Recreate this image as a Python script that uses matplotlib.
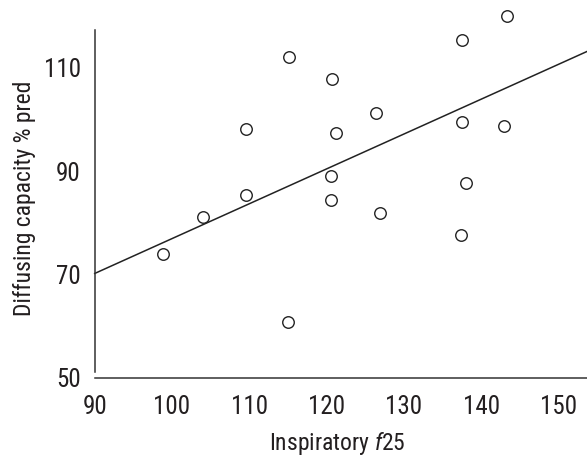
import matplotlib
matplotlib.use("Agg")
import matplotlib.pyplot as plt

# Data
insp_f25 = [98.9, 104.0, 109.6, 109.6, 115.1, 115.05, 120.7, 121.2, 120.6, 120.6,
            126.4, 126.9, 137.5, 137.5, 137.4, 138.05, 143.4, 143.0]
diff_cap = [74.0, 81.1, 85.4, 98.1, 112.1, 60.8, 107.7, 97.3, 89.1, 84.4,
            101.3, 81.8, 115.4, 99.4, 77.6, 87.7, 120.0, 98.75]
line_x = [90.0, 153.7]
line_y = [70.2, 113.1]
x_ticks = [90, 100, 110, 120, 130, 140, 150]
y_ticks = [50, 70, 90, 110]

FONT = ['Roboto Condensed', 'Roboto', 'DejaVu Sans']
plt.rcParams['font.family'] = FONT
plt.rcParams['mathtext.fontset'] = 'custom'
plt.rcParams['mathtext.rm'] = 'Roboto Condensed'
plt.rcParams['mathtext.it'] = 'Roboto Condensed:italic'

TXT = '#231f20'
FS = 18
FSL = 17
fig = plt.figure(figsize=(5.87, 4.59), dpi=100)
ax = fig.add_axes([94.7 / 587, 1 - 378 / 459, (587 - 94.7) / 587, 370 / 459])

ax.plot(line_x, line_y, color='#222222', lw=1.1, clip_on=False)
ax.plot(insp_f25, diff_cap, 'o', ms=8.3, mfc='white', mec='#222222', mew=1.0,
        clip_on=False, zorder=3)

ax.set_xlim(90, 153.7)
ax.set_ylim(50, 121.5)
ax.set_xticks(x_ticks)
ax.set_yticks(y_ticks)
ax.tick_params(length=0, labelsize=FS, labelcolor=TXT)
ax.tick_params(axis='x', pad=12)
ax.tick_params(axis='y', pad=10)

for s in ['top', 'right']:
    ax.spines[s].set_visible(False)
ax.spines['left'].set_bounds(51.2, 117.2)
ax.spines['left'].set_color('#333333')
ax.spines['bottom'].set_color('#333333')
ax.spines['left'].set_linewidth(1.1)
ax.spines['bottom'].set_linewidth(1.1)

ax.set_xlabel('Inspiratory $\\mathit{f}$25', fontsize=FSL, color=TXT)
ax.set_ylabel('Diffusing capacity % pred', fontsize=FSL, color=TXT)
ax.xaxis.set_label_coords(0.493, -0.178)
ax.yaxis.set_label_coords(-0.1416, 0.485)
ax.xaxis.label.set_va('center')
ax.yaxis.label.set_va('center')

fig.savefig('out.png', dpi=100)
